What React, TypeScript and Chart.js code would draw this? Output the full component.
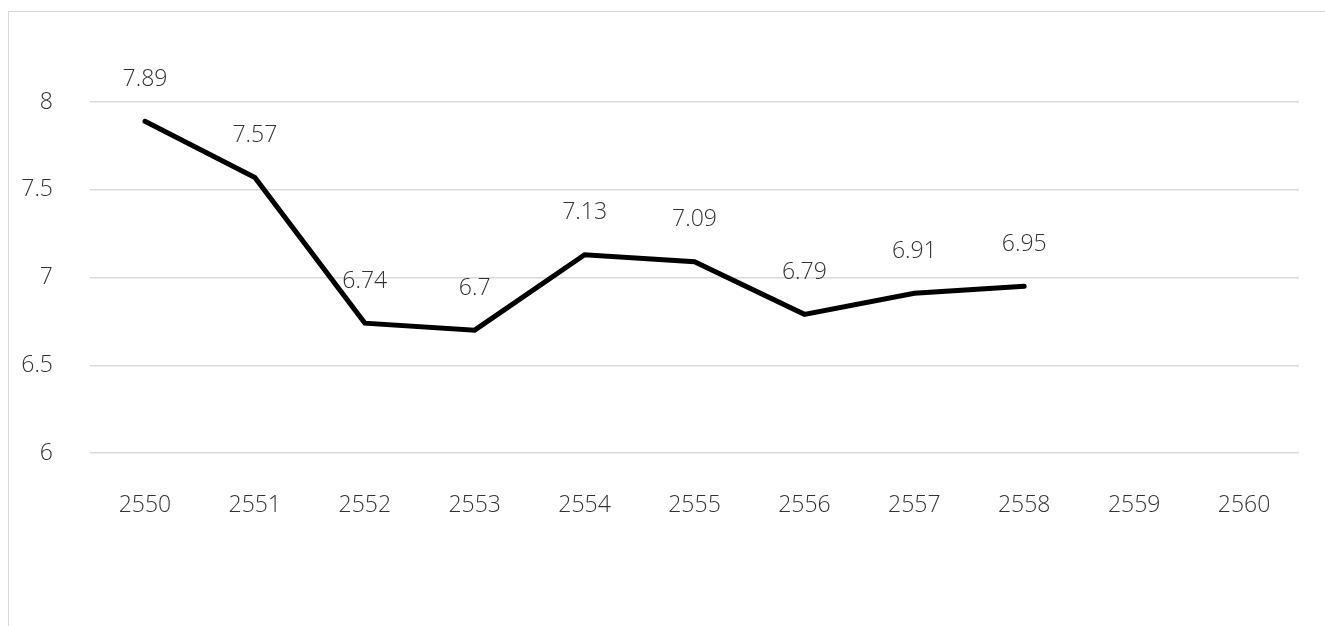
import React, { useEffect, useRef } from "react";
import { Chart, registerables } from "chart.js";

Chart.register(...registerables);

const years = ["2550", "2551", "2552", "2553", "2554", "2555", "2556", "2557", "2558", "2559", "2560"];
const values: (number | null)[] = [7.89, 7.57, 6.74, 6.7, 7.13, 7.09, 6.79, 6.91, 6.95, null, null];
const yMin = 6;
const yMax = 8;
const yStep = 0.5;

const FONT = "'Open Sans', 'Noto Sans', sans-serif";
const TEXT = "#333333";
const FONT_SIZE = 23;

const valueLabels = {
  id: "valueLabels",
  afterDatasetsDraw(chart: Chart) {
    const { ctx } = chart;
    const meta = chart.getDatasetMeta(0);
    ctx.save();
    ctx.font = `300 ${FONT_SIZE}px ${FONT}`;
    ctx.fillStyle = TEXT;
    ctx.textAlign = "center";
    ctx.textBaseline = "middle";
    meta.data.forEach((pt: any, i: number) => {
      const v = values[i];
      if (v === null || v === undefined) return;
      ctx.fillText(String(v), pt.x, pt.y - 42);
    });
    ctx.restore();
  },
};

export default function App() {
  const ref = useRef<HTMLCanvasElement | null>(null);

  useEffect(() => {
    if (!ref.current) return;
    const chart = new Chart(ref.current, {
      type: "line",
      data: {
        labels: years,
        datasets: [
          {
            data: values,
            borderColor: "#000000",
            borderWidth: 5,
            borderCapStyle: "round",
            pointRadius: 0,
            pointHoverRadius: 0,
            fill: false,
            tension: 0,
            spanGaps: false,
          },
        ],
      },
      options: {
        animation: false,
        responsive: false,
        maintainAspectRatio: false,
        layout: { padding: { top: 102, right: 26, bottom: 113, left: 0 } },
        plugins: {
          legend: { display: false },
          tooltip: { enabled: false },
        },
        scales: {
          x: {
            offset: true,
            grid: { display: false },
            border: { display: false },
            ticks: {
              color: TEXT,
              font: { family: FONT, size: FONT_SIZE, weight: "300" },
              padding: 31,
              maxRotation: 0,
            },
            afterFit: (s: any) => {
              s.height = 60;
            },
          },
          y: {
            min: yMin,
            max: yMax,
            border: { display: false },
            grid: { color: "#d9d9d9", lineWidth: 1.5, drawTicks: false },
            ticks: {
              stepSize: yStep,
              color: TEXT,
              font: { family: FONT, size: FONT_SIZE, weight: "300" },
              padding: 37,
              callback: (v: any) => String(Number(v)),
            },
            afterFit: (s: any) => {
              s.width = 90;
            },
          },
        },
      },
      plugins: [valueLabels],
    });
    return () => chart.destroy();
  }, []);

  return (
    <div style={{ position: "fixed", left: 0, top: 0, width: 1325, height: 626, background: "#fff", overflow: "hidden" }}>
      <div
        style={{
          position: "absolute",
          left: 8,
          top: 11,
          width: 1400,
          height: 700,
          border: "1px solid #d9d9d9",
          boxSizing: "border-box",
        }}
      />
      <canvas ref={ref} width={1325} height={626} style={{ position: "absolute", left: 0, top: 0 }} />
    </div>
  );
}
